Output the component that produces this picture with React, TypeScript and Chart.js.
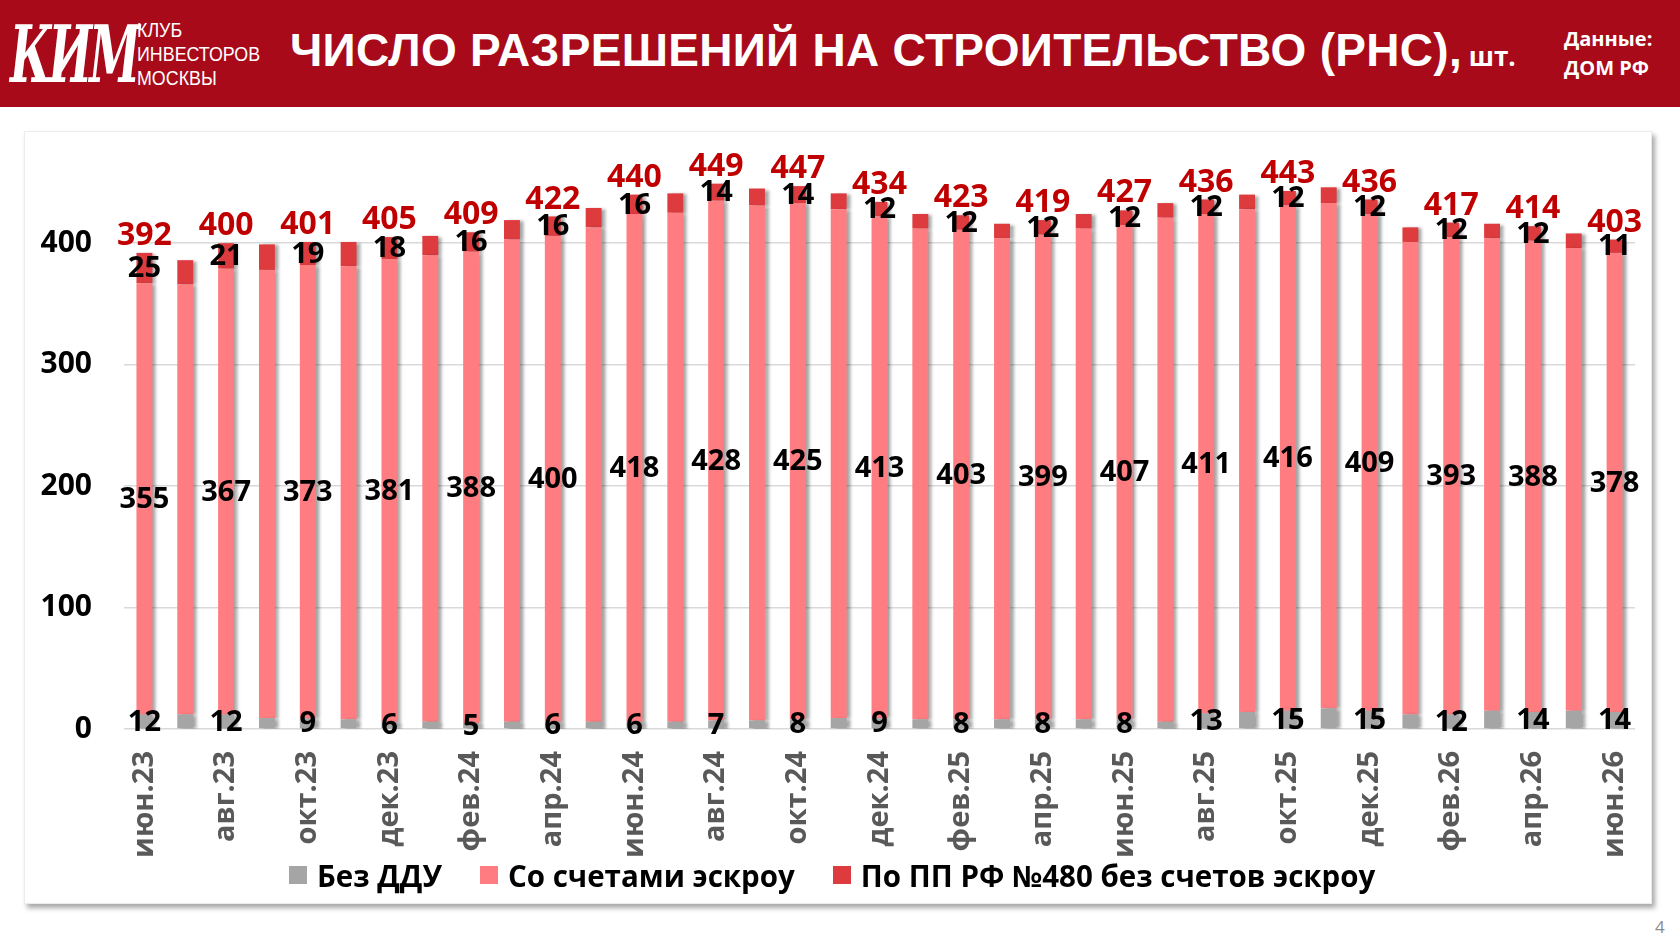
import React, { useEffect, useRef } from 'react';
import { Chart, registerables } from 'chart.js';

Chart.register(...registerables);

const MONTHS = [
    'июн.23', 'июл.23', 'авг.23', 'сен.23', 'окт.23', 'ноя.23', 'дек.23',
    'янв.24', 'фев.24', 'мар.24', 'апр.24', 'май.24', 'июн.24', 'июл.24',
    'авг.24', 'сен.24', 'окт.24', 'ноя.24', 'дек.24', 'янв.25', 'фев.25',
    'мар.25', 'апр.25', 'май.25', 'июн.25', 'июл.25', 'авг.25', 'сен.25',
    'окт.25', 'ноя.25', 'дек.25', 'янв.26', 'фев.26', 'мар.26', 'апр.26',
    'май.26', 'июн.26',
];

// Без ДДУ
const NO_DDU = [
    12, 12, 12, 9, 9, 8, 6, 6, 5, 6, 6, 6, 6, 6, 7, 7, 8, 9, 9,
    8, 8, 8, 8, 8, 8, 6, 13, 14, 15, 17, 15, 12, 12, 15, 14, 15, 14,
];

// Со счетами эскроу
const ESCROW = [
    355, 354, 367, 369, 373, 373, 381, 384, 388, 397, 400, 407, 418, 419,
    428, 424, 425, 419, 413, 404, 403, 396, 399, 404, 407, 415, 411, 414,
    416, 416, 409, 389, 393, 389, 388, 381, 378,
];

// По ПП РФ №480 без счетов эскроу
const PP480 = [
    25, 20, 21, 21, 19, 20, 18, 16, 16, 16, 16, 16, 16, 16, 14, 14, 14, 13, 12,
    12, 12, 12, 12, 12, 12, 12, 12, 12, 12, 13, 12, 12, 12, 12, 12, 12, 11,
];

const SERIES_NAMES = ['Без ДДУ', 'Со счетами эскроу', 'По ПП РФ №480 без счетов эскроу'];
const SERIES_COLORS = ['#A5A5A5', '#FF7C80', '#DE3B3F'];
const FONT = "'Open Sans', 'Noto Sans', sans-serif";

// bar shadow + data labels on every second month
const labelsPlugin = {
    id: 'stackLabels',
    beforeDatasetsDraw(chart: Chart) {
        const ctx = chart.ctx;
        ctx.save();
        ctx.shadowColor = 'rgba(0,0,0,0.35)';
        ctx.shadowOffsetX = 4;
        ctx.shadowOffsetY = 1;
        ctx.shadowBlur = 3;
    },
    afterDatasetsDraw(chart: Chart) {
        const ctx = chart.ctx;
        ctx.restore();
        ctx.save();
        ctx.textAlign = 'center';
        ctx.textBaseline = 'middle';
        const metas = [0, 1, 2].map((d) => chart.getDatasetMeta(d));
        const series = [NO_DDU, ESCROW, PP480];
        MONTHS.forEach((_, i) => {
            if (i % 2 !== 0) return;
            ctx.fillStyle = '#000000';
            ctx.font = `bold 29px ${FONT}`;
            metas.forEach((meta, d) => {
                const el: any = meta.data[i];
                ctx.fillText(String(series[d][i]), el.x, (el.y + el.base) / 2 + 1);
            });
            const top: any = metas[2].data[i];
            const total = NO_DDU[i] + ESCROW[i] + PP480[i];
            ctx.fillStyle = '#C00000';
            ctx.font = `bold 32px ${FONT}`;
            ctx.fillText(String(total), top.x, top.y - 17);
        });
        ctx.restore();
    },
};

function PermitsChart() {
    const canvasRef = useRef<HTMLCanvasElement>(null);
    const chartRef = useRef<Chart | null>(null);

    useEffect(() => {
        if (!canvasRef.current) return;
        chartRef.current?.destroy();

        chartRef.current = new Chart(canvasRef.current, {
            type: 'bar',
            data: {
                labels: MONTHS,
                datasets: [NO_DDU, ESCROW, PP480].map((values, d) => ({
                    label: SERIES_NAMES[d],
                    data: values,
                    backgroundColor: SERIES_COLORS[d],
                    borderWidth: 0,
                    barPercentage: 0.78,
                    categoryPercentage: 0.5,
                })),
            },
            options: {
                responsive: true,
                maintainAspectRatio: false,
                animation: false,
                layout: { padding: { left: 15, right: 16, top: 14, bottom: 45 } },
                scales: {
                    x: {
                        stacked: true,
                        grid: { display: false },
                        border: { display: false },
                        afterFit: (scale: any) => {
                            scale.height = 129;
                            scale.paddingLeft = 0;
                            scale.paddingRight = 0;
                        },
                        ticks: {
                            autoSkip: false,
                            minRotation: 90,
                            maxRotation: 90,
                            padding: 14,
                            color: '#595959',
                            font: { family: FONT, size: 29, weight: 'bold' },
                            callback: (_v: any, i: number) => (i % 2 === 0 ? MONTHS[i] : ''),
                        },
                    },
                    y: {
                        stacked: true,
                        min: 0,
                        max: 480,
                        border: { display: false },
                        afterFit: (scale: any) => {
                            scale.width = 84;
                            scale.paddingTop = 0;
                            scale.paddingBottom = 0;
                        },
                        grid: {
                            drawTicks: false,
                            lineWidth: 1.5,
                            color: (c: any) => (c.tick && c.tick.value % 100 === 0 ? '#D9D9D9' : 'rgba(0,0,0,0)'),
                        },
                        ticks: {
                            stepSize: 100,
                            padding: 32,
                            color: '#000000',
                            font: { family: FONT, size: 30, weight: 'bold' },
                            callback: (v: any) => (Number(v) % 100 === 0 ? String(v) : ''),
                        },
                    },
                },
                plugins: {
                    legend: { display: false },
                    tooltip: { enabled: false },
                },
            },
            plugins: [labelsPlugin],
        });

        return () => { chartRef.current?.destroy(); chartRef.current = null; };
    }, []);

    return <canvas ref={canvasRef} />;
}

function Legend() {
    return (
        <div style={{ position: 'absolute', left: 289, top: 855, height: 40, display: 'flex', alignItems: 'center', fontFamily: FONT, fontWeight: 'bold', fontSize: 29.5, color: '#000000', whiteSpace: 'nowrap' }}>
            {SERIES_NAMES.map((name, d) => (
                <div key={name} style={{ display: 'flex', alignItems: 'center', marginRight: 38 }}>
                    <span style={{ display: 'inline-block', width: 18, height: 18, background: SERIES_COLORS[d], marginRight: 10 }} />
                    <span>{name}</span>
                </div>
            ))}
        </div>
    );
}

export default function App() {
    return (
        <div style={{ position: 'absolute', left: 0, top: 0, width: 1680, height: 945, background: '#ffffff', overflow: 'hidden', fontFamily: "'Liberation Sans', Arial, sans-serif" }}>
            <div style={{ position: 'absolute', left: 0, top: 0, width: 1680, height: 107, background: '#A80A1A' }}>
                <div style={{ position: 'absolute', left: 10, top: 8, width: 115, height: 95, color: '#ffffff', fontFamily: "'DejaVu Serif', serif", fontStyle: 'italic', fontWeight: 'bold', fontSize: 46, lineHeight: '95px', textAlign: 'center', transform: 'scaleY(1.7)', letterSpacing: -3 }}>
                    КИМ
                </div>
                <div style={{ position: 'absolute', left: 137, top: 18, color: '#ffffff', fontSize: 21, lineHeight: '24px', transform: 'scaleX(0.85)', transformOrigin: 'left center' }}>
                    КЛУБ<br />ИНВЕСТОРОВ<br />МОСКВЫ
                </div>
                <div style={{ position: 'absolute', left: 290, top: 24, color: '#ffffff', fontWeight: 'bold', fontSize: 46, lineHeight: '52px', letterSpacing: 0.3, whiteSpace: 'nowrap' }}>
                    ЧИСЛО РАЗРЕШЕНИЙ НА СТРОИТЕЛЬСТВО (РНС),<span style={{ fontSize: 26, fontFamily: FONT, letterSpacing: 0 }}> шт.</span>
                </div>
                <div style={{ position: 'absolute', left: 1564, top: 24, color: '#ffffff', fontFamily: FONT, fontWeight: 'bold', fontSize: 20, lineHeight: '29px' }}>
                    Данные:<br />ДОМ РФ
                </div>
            </div>
            <div style={{ position: 'absolute', left: 24, top: 131, width: 1626, height: 771, background: '#ffffff', border: '1px solid #ececec', boxShadow: '3px 4px 5px rgba(0,0,0,0.35)' }}>
                <PermitsChart />
            </div>
            <Legend />
            <div style={{ position: 'absolute', left: 1655, top: 915, color: '#8c8c8c', fontFamily: FONT, fontSize: 17 }}>4</div>
        </div>
    );
}
